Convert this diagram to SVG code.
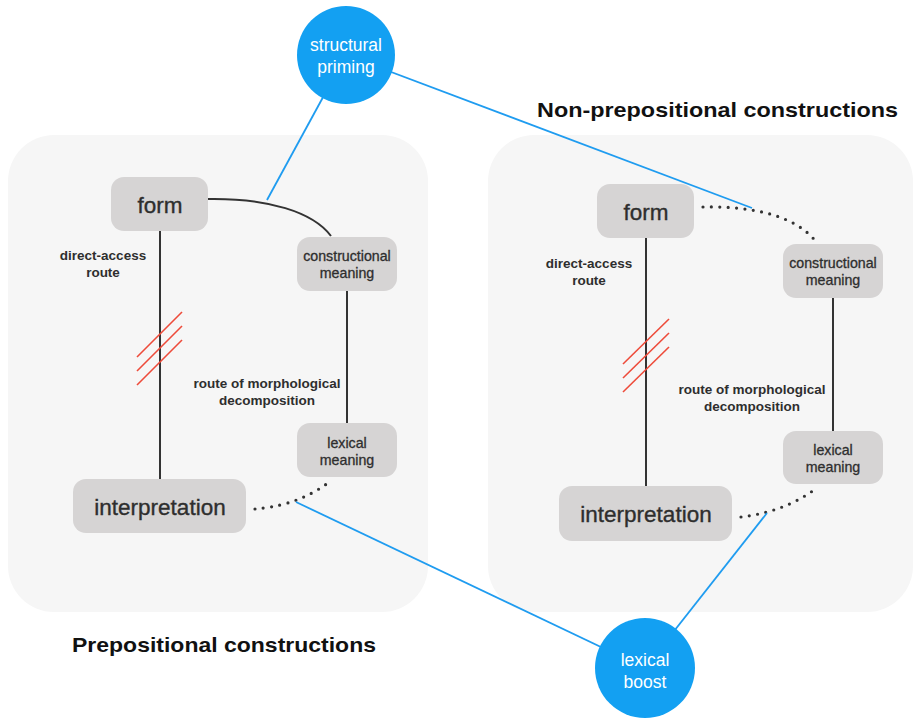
<svg xmlns="http://www.w3.org/2000/svg" width="917" height="718" viewBox="0 0 917 718">
<style>
.panel{fill:#f6f6f6}
.node{fill:#d6d4d4}
.lbl{font-family:"Liberation Sans",Arial,sans-serif;fill:#2e2e2e;text-anchor:middle}
.big{font-size:22.5px;stroke:#2e2e2e;stroke-width:0.35}
.small{font-size:14.2px;stroke:#2e2e2e;stroke-width:0.3}
.route{font-size:13.5px;font-weight:bold}
.title{font-family:"Liberation Sans",Arial,sans-serif;font-weight:bold;font-size:21px;fill:#111}
.solid{stroke:#333;stroke-width:2;fill:none}
.dot{stroke:#333;stroke-width:3.2;fill:none;stroke-linecap:round;stroke-dasharray:0 8.4}
.blue{stroke:#1f9cf0;stroke-width:1.8;fill:none}
.red{stroke:#ee4b3a;stroke-width:1.6}
.circ{fill:#13a0f2}
.ctext{font-family:"Liberation Sans",Arial,sans-serif;fill:#fff;text-anchor:middle;font-size:17.5px}
</style>
<rect width="917" height="718" fill="#fff"/>
<rect class="panel" x="8" y="135" width="420" height="477" rx="46"/>
<rect class="panel" x="488" y="135" width="425" height="477" rx="46"/>

<g id="connectors">
<line class="solid" x1="160" y1="231" x2="160" y2="479"/>
<line class="solid" x1="347" y1="291" x2="347" y2="423"/>
<path class="solid" d="M208,199 C268,198 313,212 331,236"/>
<path class="dot" d="M255,509 C275,507 300,503 328,483"/>
<line class="solid" x1="646" y1="238" x2="646" y2="486"/>
<line class="solid" x1="833" y1="298" x2="833" y2="431"/>
<path class="dot" d="M703,207 C745,206 795,213 817,243"/>
<path class="dot" d="M741,517 C765,514 790,507 814,490"/>
<g>
<line class="red" x1="137" y1="357" x2="182" y2="312"/>
<line class="red" x1="137" y1="371" x2="182" y2="326"/>
<line class="red" x1="137" y1="385" x2="182" y2="340"/>
<line class="red" x1="623" y1="364" x2="669" y2="319"/>
<line class="red" x1="623" y1="378" x2="669" y2="333"/>
<line class="red" x1="623" y1="392" x2="669" y2="347"/>
</g>
<line class="blue" x1="346" y1="55" x2="267" y2="200"/>
<line class="blue" x1="346" y1="55" x2="752" y2="208"/>
<line class="blue" x1="645" y1="668" x2="296" y2="502"/>
<line class="blue" x1="645" y1="668" x2="767" y2="513"/>
</g>

<g id="left-form"><rect class="node" x="111" y="177" width="97" height="54" rx="13"/><text class="lbl big" x="160" y="213">form</text></g>
<g id="left-constructional"><rect class="node" x="297" y="237" width="100" height="54" rx="13"/><text class="lbl small" x="347" y="261">constructional</text><text class="lbl small" x="347" y="278">meaning</text></g>
<g id="left-lexical"><rect class="node" x="297" y="423" width="100" height="54" rx="13"/><text class="lbl small" x="347" y="448">lexical</text><text class="lbl small" x="347" y="465">meaning</text></g>
<g id="left-interpretation"><rect class="node" x="73" y="479" width="173" height="54" rx="13"/><text class="lbl big" x="160" y="515">interpretation</text></g>
<g id="left-labels"><text class="lbl route" x="103" y="260">direct-access</text><text class="lbl route" x="103" y="277">route</text><text class="lbl route" x="267" y="388">route of morphological</text><text class="lbl route" x="267" y="405">decomposition</text></g>

<g id="right-form"><rect class="node" x="597" y="184" width="97" height="54" rx="13"/><text class="lbl big" x="646" y="220">form</text></g>
<g id="right-constructional"><rect class="node" x="783" y="244" width="100" height="54" rx="13"/><text class="lbl small" x="833" y="268">constructional</text><text class="lbl small" x="833" y="285">meaning</text></g>
<g id="right-lexical"><rect class="node" x="783" y="431" width="100" height="53" rx="13"/><text class="lbl small" x="833" y="455">lexical</text><text class="lbl small" x="833" y="472">meaning</text></g>
<g id="right-interpretation"><rect class="node" x="559" y="486" width="173" height="55" rx="13"/><text class="lbl big" x="646" y="522">interpretation</text></g>
<g id="right-labels"><text class="lbl route" x="589" y="268">direct-access</text><text class="lbl route" x="589" y="285">route</text><text class="lbl route" x="752" y="394">route of morphological</text><text class="lbl route" x="752" y="411">decomposition</text></g>

<g id="structural-priming"><circle class="circ" cx="346" cy="55" r="49"/><text class="ctext" x="346" y="51">structural</text><text class="ctext" x="346" y="73">priming</text></g>
<g id="lexical-boost"><circle class="circ" cx="645" cy="668" r="50"/><text class="ctext" x="645" y="666">lexical</text><text class="ctext" x="645" y="688">boost</text></g>

<text class="title" x="537" y="117" textLength="361" lengthAdjust="spacingAndGlyphs">Non-prepositional constructions</text>
<text class="title" x="72" y="652" textLength="304" lengthAdjust="spacingAndGlyphs">Prepositional constructions</text>
</svg>
